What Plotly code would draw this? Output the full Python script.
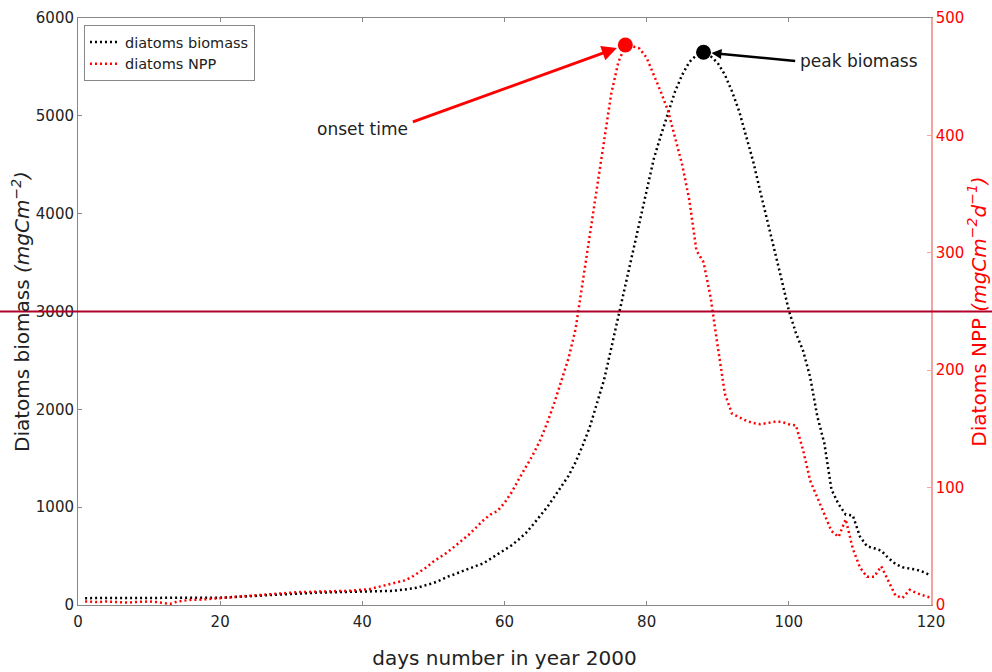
import plotly.graph_objects as go

days = list(range(1, 121))

biomass = [70, 70, 70, 71, 71, 72, 72, 72, 73, 73,
           73, 72, 71, 70, 70, 70, 71, 72, 73, 75,
           78, 82, 86, 90, 95, 100, 105, 110, 114, 118,
           121, 124, 126, 128, 129, 130, 131, 132, 133, 134,
           136, 138, 141, 144, 150, 158, 168, 182, 200, 225,
           255, 290, 315, 345, 375, 400, 425, 470, 515, 560,
           610, 670, 735, 820, 910, 1000, 1105, 1210, 1320, 1460,
           1630, 1820, 2050, 2300, 2620, 2940, 3280, 3610, 3920, 4240,
           4560, 4800, 5030, 5250, 5420, 5550, 5620, 5650, 5610, 5540,
           5420, 5250, 5050, 4800, 4530, 4220, 3930, 3630, 3320, 3010,
           2780, 2600, 2330, 1930, 1650, 1180, 1030, 925, 915, 700,
           600, 580, 555, 480, 420, 385, 372, 360, 335, 300]

npp = [3, 2.5, 2.5, 3, 2.5, 2, 2, 2.5, 3, 3,
       2.5, 1.5, 1, 3, 4, 4.5, 4.5, 5, 5, 5.5,
       6, 7, 7.5, 8, 8.5, 9, 9.5, 10, 10, 10.5,
       11, 11, 11.5, 11.5, 11.5, 12, 12, 12, 12.5, 13,
       13.5, 15, 16.5, 18, 19.5, 21, 24, 28, 32, 37,
       41, 45, 50, 55, 60, 66, 72, 77, 80, 87,
       96, 107, 117, 128, 140, 155, 172, 190, 210, 235,
       275, 317, 355, 393, 435, 462, 477, 476, 474, 466,
       452, 437, 421, 398, 375, 345, 302, 292, 262, 220,
       180, 163, 160, 157, 155, 154, 155, 156, 156, 154,
       153, 132, 106, 92, 78, 63, 58, 73, 48, 32,
       24, 24, 33, 20, 8, 6, 13, 10, 8, 6]

onset_day, onset_val = 77, 477
peak_day, peak_val = 88, 5650
threshold = 3000

FONT = "DejaVu Sans"
TXT = "#222222"
RED = "#ff0000"
GREY = "#888888"

fig = go.Figure()
fig.add_trace(go.Scatter(x=days, y=biomass, mode="lines", name="diatoms biomass",
                         line=dict(color="black", width=2.5, dash="2px,3px"), yaxis="y"))
fig.add_trace(go.Scatter(x=days, y=npp, mode="lines", name="diatoms NPP",
                         line=dict(color=RED, width=2.5, dash="2px,3px"), yaxis="y2"))
fig.add_trace(go.Scatter(x=[onset_day], y=[onset_val], mode="markers", showlegend=False,
                         marker=dict(color=RED, size=15), yaxis="y2"))
fig.add_trace(go.Scatter(x=[peak_day], y=[peak_val], mode="markers", showlegend=False,
                         marker=dict(color="black", size=15), yaxis="y"))

fig.add_shape(type="line", xref="paper", yref="y", x0=-0.2, x1=1.2, y0=threshold, y1=threshold,
              line=dict(color="#b0002a", width=2), layer="above")

# arrows
fig.add_annotation(x=onset_day, y=onset_val, xref="x", yref="y2", ax=46.9, ay=411, axref="x", ayref="y2",
                   text="", showarrow=True, arrowhead=2, arrowsize=1, arrowwidth=3, arrowcolor=RED,
                   standoff=9)
fig.add_annotation(x=40, y=4870, xref="x", yref="y", text="onset time", showarrow=False,
                   font=dict(family=FONT, size=17, color=TXT))
fig.add_annotation(x=peak_day, y=peak_val, xref="x", yref="y", ax=101.1, ay=5560, axref="x", ayref="y",
                   text="", showarrow=True, arrowhead=2, arrowsize=0.8, arrowwidth=2.5, arrowcolor="black",
                   standoff=8)
fig.add_annotation(x=109.9, y=5560, xref="x", yref="y", text="peak biomass", showarrow=False,
                   font=dict(family=FONT, size=17, color=TXT))

fig.update_layout(
    width=992, height=672,
    margin=dict(l=78, r=61, t=18, b=67),
    paper_bgcolor="white", plot_bgcolor="white",
    font=dict(family=FONT, color=TXT),
    showlegend=True,
    legend=dict(x=0.007, y=0.988, xanchor="left", yanchor="top",
                bgcolor="white", bordercolor=GREY, borderwidth=1,
                font=dict(family=FONT, size=14.5, color=TXT), itemwidth=30,
                tracegroupgap=0),
    xaxis=dict(range=[0, 120], dtick=20, tick0=0, showgrid=False, zeroline=False, automargin=False,
               showline=True, linecolor=GREY, linewidth=1, mirror="ticks",
               ticks="inside", ticklen=4, tickcolor=GREY, ticklabelstandoff=3,
               tickfont=dict(family=FONT, size=15, color=TXT),
               title=dict(text="days number in year 2000", standoff=20,
                          font=dict(family=FONT, size=20, color=TXT))),
    yaxis=dict(range=[0, 6000], dtick=1000, tick0=0, showgrid=False, zeroline=False, automargin=False,
               showline=True, linecolor=GREY, linewidth=1,
               ticks="inside", ticklen=4, tickcolor=GREY,
               tickfont=dict(family=FONT, size=15, color=TXT),
               title=dict(text="Diatoms biomass <i>(mgCm<sup>−2</sup>)</i>", standoff=0,
                          font=dict(family=FONT, size=20, color=TXT))),
    yaxis2=dict(range=[0, 500], dtick=100, tick0=0, overlaying="y", side="right", automargin=False,
                showgrid=False, zeroline=False, showline=True, linecolor="#f4a3a3", linewidth=1.5,
                ticks="inside", ticklen=4, tickcolor="#f4a3a3",
                tickfont=dict(family=FONT, size=15, color=RED),
                title=dict(text="Diatoms NPP <i>(mgCm<sup>−2</sup>d<sup>−1</sup>)</i>", standoff=8,
                           font=dict(family=FONT, size=20, color=RED))),
)

fig.write_html("out.html")
